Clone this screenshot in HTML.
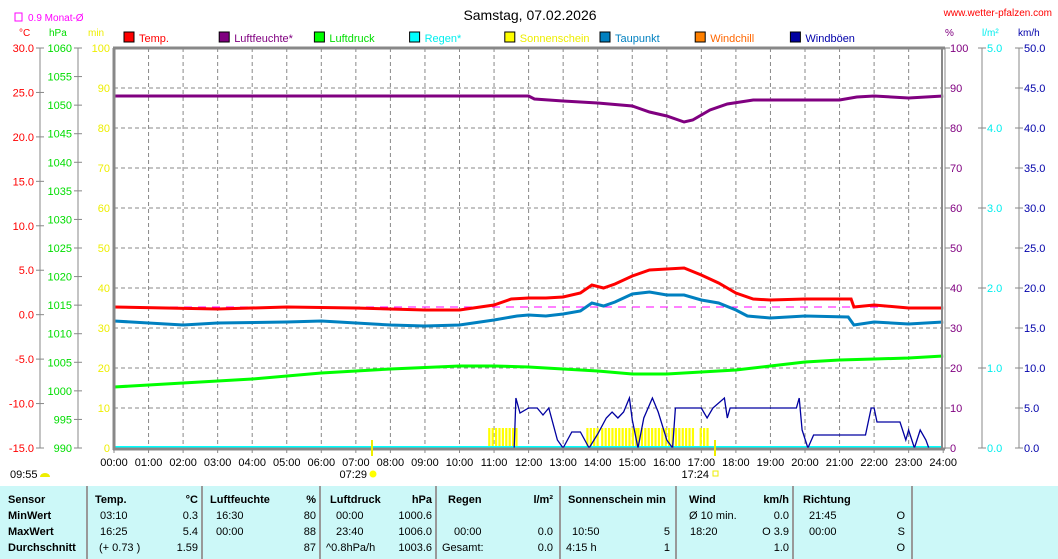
<!DOCTYPE html>
<html><head><meta charset="utf-8"><style>
body{margin:0;background:#fff;width:1058px;height:559px;overflow:hidden}
svg{display:block;font-family:"Liberation Sans",sans-serif;font-size:11px}
.b{font-weight:bold}
</style></head><body>
<svg id="s" width="1058" height="559" xmlns="http://www.w3.org/2000/svg">
<rect x="0" y="486" width="1058" height="73" fill="#ccf8f8"/>
<g stroke="#999" stroke-width="2">
<line x1="87" y1="486" x2="87" y2="559"/><line x1="202" y1="486" x2="202" y2="559"/><line x1="320" y1="486" x2="320" y2="559"/><line x1="436" y1="486" x2="436" y2="559"/><line x1="560" y1="486" x2="560" y2="559"/><line x1="676" y1="486" x2="676" y2="559"/><line x1="793" y1="486" x2="793" y2="559"/><line x1="912" y1="486" x2="912" y2="559"/>
</g>
<text x="530" y="20" text-anchor="middle" font-size="14">Samstag, 07.02.2026</text>
<text x="1052" y="16" text-anchor="end" fill="#f00" font-size="10">www.wetter-pfalzen.com</text>
<rect x="15" y="13" width="7" height="8" fill="none" stroke="#f0f"/>
<text x="28" y="21" fill="#f0f" font-size="10">0.9 Monat-Ø</text>
<text x="19" y="36" fill="#f00" font-size="10">°C</text>
<text x="49" y="36" fill="#0d0" font-size="10">hPa</text>
<text x="88" y="36" fill="#ee0" font-size="10">min</text>
<text x="945" y="36" fill="#800080" font-size="10">%</text>
<text x="982" y="36" fill="#0ee" font-size="10">l/m²</text>
<text x="1018" y="36" fill="#00a" font-size="10">km/h</text>
<g id="leg"></g>
<g id="grid" stroke="#888" stroke-dasharray="4,3" stroke-width="1"></g>
<g id="axes"></g>
<g id="sun" fill="#ff0"></g>
<line x1="114" y1="447" x2="943" y2="447" stroke="#0ff" stroke-width="2"/>
<polyline id="hum" fill="none" stroke="#800080" stroke-width="3"/>
<polyline id="pres" fill="none" stroke="#0f0" stroke-width="3"/>
<line x1="114" y1="307" x2="943" y2="307" stroke="#f0f" stroke-dasharray="8,6"/>
<polyline id="temp" fill="none" stroke="#f00" stroke-width="3"/>
<polyline id="dew" fill="none" stroke="#0080c0" stroke-width="3"/>
<polyline id="wind" fill="none" stroke="#0000a0" stroke-width="1.3"/>
<g stroke="#888" fill="none">
<line x1="114" y1="48" x2="114" y2="450" stroke-width="3"/>
<line x1="113" y1="48" x2="945" y2="48" stroke-width="3"/>
<line x1="113" y1="449" x2="945" y2="449" stroke-width="3"/>
<line x1="942" y1="48" x2="942" y2="449" stroke-width="2"/>
<line x1="945" y1="48" x2="945" y2="449" stroke-width="1"/>
</g>
<line x1="372" y1="440" x2="372" y2="456" stroke="#ee0" stroke-width="2"/>
<line x1="715" y1="440" x2="715" y2="456" stroke="#ee0" stroke-width="2"/>
<text x="367" y="478" text-anchor="end">07:29</text><circle cx="373" cy="474" r="3.5" fill="#ff0"/>
<text x="709" y="478" text-anchor="end">17:24</text><rect x="713" y="471" width="5" height="5" fill="none" stroke="#ee0"/>
<text x="10" y="478">09:55</text><path d="M40 477 a5 4 0 0 1 10 0z" fill="#ee0"/>
<g id="tbl"></g>
</svg>
<script>
var s=document.getElementById('s'),NS='http://www.w3.org/2000/svg';
function el(p,t,a,tx){var e=document.createElementNS(NS,t);for(var k in a)e.setAttribute(k,a[k]);if(tx!=null)e.textContent=tx;document.getElementById(p)?document.getElementById(p).appendChild(e):s.appendChild(e);return e}
function X(h){return 114+h*34.55}
function tm(t){var p=t.split(':');return +p[0]+p[1]/60}
function pl(id,d){var a=[];for(var i=0;i<d.length;i+=2)a.push(X(tm(d[i])).toFixed(1)+','+d[i+1]);document.getElementById(id).setAttribute('points',a.join(' '))}
// grid
for(var h=1;h<24;h++)el('grid','line',{x1:X(h),y1:48,x2:X(h),y2:448});
for(var y=88;y<448;y+=40)el('grid','line',{x1:114,y1:y,x2:942,y2:y});
for(h=0;h<=24;h++){el('axes','text',{x:X(h),y:466,'text-anchor':'middle'},(h<10?'0':'')+h+':00');el('axes','line',{x1:X(h),y1:449,x2:X(h),y2:453,stroke:'#888'})}
// left axes
el('axes','line',{x1:40,y1:48,x2:40,y2:448,stroke:'#888'});
el('axes','line',{x1:78,y1:48,x2:78,y2:448,stroke:'#888'});
for(var i=0;i<=9;i++){y=48+i*400/9;var v=(30-5*i).toFixed(1);el('axes','text',{x:34,y:y+4,'text-anchor':'end',fill:'#f00'},v);el('axes','line',{x1:36,y1:y,x2:44,y2:y,stroke:'#888'})}
for(i=0;i<=14;i++){y=48+i*400/14;el('axes','text',{x:72,y:y+4,'text-anchor':'end',fill:'#0d0'},1060-5*i);el('axes','line',{x1:74,y1:y,x2:82,y2:y,stroke:'#888'})}
for(i=0;i<=10;i++){y=48+i*40;el('axes','text',{x:110,y:y+4,'text-anchor':'end',fill:'#ee0'},100-10*i);
el('axes','text',{x:950,y:y+4,fill:'#800080'},100-10*i);el('axes','line',{x1:945,y1:y,x2:950,y2:y,stroke:'#888'})}
el('axes','line',{x1:982,y1:48,x2:982,y2:448,stroke:'#888'});
el('axes','line',{x1:1019,y1:48,x2:1019,y2:448,stroke:'#888'});
for(i=0;i<=5;i++){y=48+i*80;el('axes','text',{x:987,y:y+4,fill:'#0ee'},(5-i).toFixed(1));el('axes','line',{x1:978,y1:y,x2:986,y2:y,stroke:'#888'})}
for(i=0;i<=10;i++){y=48+i*40;el('axes','text',{x:1024,y:y+4,fill:'#00a'},(50-5*i).toFixed(1));el('axes','line',{x1:1015,y1:y,x2:1023,y2:y,stroke:'#888'})}
// legend
var L=[['Temp.','#f00','#f00'],['Luftfeuchte*','#800080','#800080'],['Luftdruck','#0f0','#0d0'],['Regen*','#0ff','#0ee'],['Sonnenschein','#ff0','#ee0'],['Taupunkt','#0080c0','#0080c0'],['Windchill','#ff8000','#f60'],['Windböen','#0000a0','#00a']];
L.forEach(function(l,i){var x=124+i*95.2;el('leg','rect',{x:x,y:32,width:10,height:10,fill:l[1],stroke:'#000'});el('leg','text',{x:x+15,y:42,fill:l[2]},l[0])});
// sunshine bars
[[10.83,11.7],[13.67,14.0],[14.1,15.1],[15.15,16.75],[16.95,17.15]].forEach(function(r){for(var x=X(r[0]);x<X(r[1]);x+=3.4)el('sun','rect',{x:x,y:428,width:2.2,height:20})});
pl('temp',['0:00',307,'3:00',309,'5:00',307,'7:00',308,'9:00',310,'10:00',310,'11:00',305,'11:30',299,'12:00',298,'12:30',298,'13:00',297,'13:30',293,'13:50',285,'14:10',288,'14:30',284,'15:00',276,'15:30',270,'16:00',269,'16:30',268,'17:00',275,'17:30',283,'18:00',293,'18:30',299,'19:00',300,'20:00',299,'21:20',299,'21:25',307,'22:00',305,'23:00',308,'24:00',308]);
pl('dew',['0:00',321,'2:00',325,'3:00',323,'5:00',322,'6:00',321,'8:00',325,'9:00',326,'10:00',325,'11:00',320,'11:40',316,'12:00',315,'12:30',316,'13:00',314,'13:30',311,'13:50',303,'14:10',306,'14:30',302,'15:00',294,'15:30',292,'16:00',295,'16:30',295,'17:00',300,'17:30',303,'18:00',310,'18:20',316,'19:00',318,'20:00',316,'21:15',317,'21:25',325,'22:00',322,'23:00',324,'24:00',322]);
pl('hum',['0:00',96,'12:00',96,'12:10',99,'13:00',101,'14:00',103,'15:00',106,'15:30',112,'16:00',116,'16:30',122,'16:45',120,'17:15',110,'17:45',104,'18:30',100,'21:00',100,'21:30',97,'22:00',96,'23:00',98,'24:00',96]);
pl('pres',['0:00',387,'2:00',383,'4:00',379,'6:00',373,'8:00',369,'10:00',366,'11:00',366,'12:00',367,'13:00',369,'14:00',371,'15:00',374,'16:00',374,'17:00',372,'18:00',370,'19:00',366,'20:00',362,'21:00',360,'22:00',359,'23:00',358,'24:00',356]);
pl('wind',['11:35',448,'11:38',398,'11:45',413,'12:00',408,'12:15',408,'12:25',415,'12:35',408,'12:50',440,'13:00',448,'13:15',432,'13:30',432,'13:45',448,'14:00',434,'14:15',418,'14:25',412,'14:35',418,'14:45',412,'14:55',398,'15:00',420,'15:10',448,'15:20',418,'15:35',398,'15:45',412,'16:00',440,'16:10',448,'16:15',408,'17:00',408,'17:10',418,'17:20',408,'17:40',398,'17:45',418,'17:50',408,'19:45',408,'19:50',398,'19:55',430,'20:05',448,'20:15',435,'21:45',435,'21:55',408,'22:00',408,'22:05',422,'22:45',422,'22:55',440,'23:00',430,'23:10',448,'23:20',430,'23:30',440,'23:35',448]);
// table
var T=[[8,'Sensor',1],[95,'Temp.',1],[198,'°C',1,1],[210,'Luftfeuchte',1],[316,'%',1,1],[330,'Luftdruck',1],[432,'hPa',1,1],[448,'Regen',1],[553,'l/m²',1,1],[568,'Sonnenschein min',1],[689,'Wind',1],[789,'km/h',1,1],[803,'Richtung',1]];
T.forEach(function(t){el('tbl','text',{x:t[0],y:503,'font-weight':'bold','text-anchor':t[3]?'end':'start'},t[1])});
var R=[[[8,'MinWert',1],[100,'03:10'],[198,'0.3',0,1],[216,'16:30'],[316,'80',0,1],[336,'00:00'],[432,'1000.6',0,1],[689,'Ø 10 min.'],[789,'0.0',0,1],[809,'21:45'],[905,'O',0,1]],
[[8,'MaxWert',1],[100,'16:25'],[198,'5.4',0,1],[216,'00:00'],[316,'88',0,1],[336,'23:40'],[432,'1006.0',0,1],[454,'00:00'],[553,'0.0',0,1],[572,'10:50'],[670,'5',0,1],[690,'18:20'],[789,'O 3.9',0,1],[809,'00:00'],[905,'S',0,1]],
[[8,'Durchschnitt',1],[99,'(+ 0.73 )'],[198,'1.59',0,1],[316,'87',0,1],[326,'^0.8hPa/h'],[432,'1003.6',0,1],[442,'Gesamt:'],[553,'0.0',0,1],[566,'4:15 h'],[670,'1',0,1],[789,'1.0',0,1],[905,'O',0,1]]];
R.forEach(function(r,j){r.forEach(function(t){var a={x:t[0],y:519+j*16,'text-anchor':t[3]?'end':'start'};if(t[2])a['font-weight']='bold';el('tbl','text',a,t[1])})});
</script>
</body></html>
